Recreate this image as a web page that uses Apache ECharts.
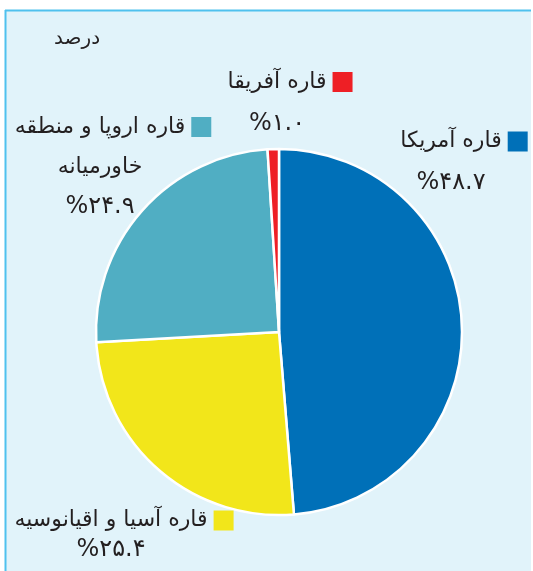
<!DOCTYPE html>
<html>
<head>
<meta charset="utf-8">
<script src="https://cdn.jsdelivr.net/npm/echarts@6/dist/echarts.min.js"></script>
<style>
html, body { margin: 0; padding: 0; background: #fff; }
#chart { width: 533px; height: 571px; }
</style>
</head>
<body>
<div id="chart"></div>
<script>
// سهم هر قاره (درصد)
var regions = ['قاره آمریکا', 'قاره آسیا و اقیانوسیه', 'قاره اروپا و منطقه\nخاورمیانه', 'قاره آفریقا'];
var shares = [48.7, 25.4, 24.9, 1.0];
var colors = ['#0070b8', '#f2e61a', '#50aec3', '#ee1f25'];

// محل برچسب ها: مرکز بلوک متن و فاصله سطرها
var labelPos = [
  { x: 451, y: 162, lh: 41 },
  { x: 111, y: 535, lh: 29 },
  { x: 100, y: 167, lh: 40 },
  { x: 277, y: 103, lh: 42 }
];

var FONT = 'DejaVu Sans';

// تبدیل ارقام به فارسی
function toFa(s) {
  return String(s).replace(/[0-9]/g, function (d) { return '۰۱۲۳۴۵۶۷۸۹'.charAt(+d); });
}

var chart = echarts.init(document.getElementById('chart'));

var pieData = regions.map(function (name, i) {
  var lh = labelPos[i].lh;
  return {
    name: name,
    value: shares[i],
    itemStyle: { color: colors[i] },
    label: {
      rich: {
        n: { fontSize: 22, lineHeight: lh, color: '#231f20', fontFamily: FONT },
        v: { fontSize: 24, lineHeight: lh, color: '#231f20', fontFamily: FONT },
        pad: { width: 26, lineHeight: lh },
        gap: { width: 6, lineHeight: lh },
        sq: { width: 20, height: 20, backgroundColor: colors[i] }
      }
    }
  };
});

var option = {
  backgroundColor: '#fff',
  animation: false,
  title: {
    text: 'درصد',
    left: 49,
    top: 24,
    textStyle: { fontSize: 20, fontWeight: 'normal', color: '#231f20', fontFamily: FONT }
  },
  graphic: [
    { type: 'rect', silent: true, shape: { x: 6, y: 11, width: 525, height: 560 }, style: { fill: '#e1f3fa' } },
    { type: 'line', silent: true, shape: { x1: 5, y1: 10.5, x2: 531, y2: 10.5 }, style: { stroke: '#4fc1ee', lineWidth: 2 } },
    { type: 'line', silent: true, shape: { x1: 5.5, y1: 10, x2: 5.5, y2: 571 }, style: { stroke: '#4fc1ee', lineWidth: 2 } }
  ],
  series: [{
    type: 'pie',
    center: [279, 332],
    radius: 183,
    startAngle: 90,
    clockwise: true,
    avoidLabelOverlap: false,
    itemStyle: { borderColor: '#fff', borderWidth: 2.5 },
    emphasis: { disabled: true },
    labelLine: { show: false },
    label: {
      show: true,
      position: 'outside',
      align: 'center',
      formatter: function (p) {
        var lines = p.name.split('\n');
        var out = '{pad|}{n|' + lines[0] + '}{gap|}{sq|}';
        for (var k = 1; k < lines.length; k++) {
          out += '\n{n|' + lines[k] + '}';
        }
        return out + '\n{v|%' + toFa(p.value.toFixed(1)) + '}';
      }
    },
    labelLayout: function (params) {
      var pos = labelPos[params.dataIndex];
      return { x: pos.x, y: pos.y, align: 'center', verticalAlign: 'middle' };
    },
    data: pieData
  }]
};

chart.setOption(option);
</script>
</body>
</html>
